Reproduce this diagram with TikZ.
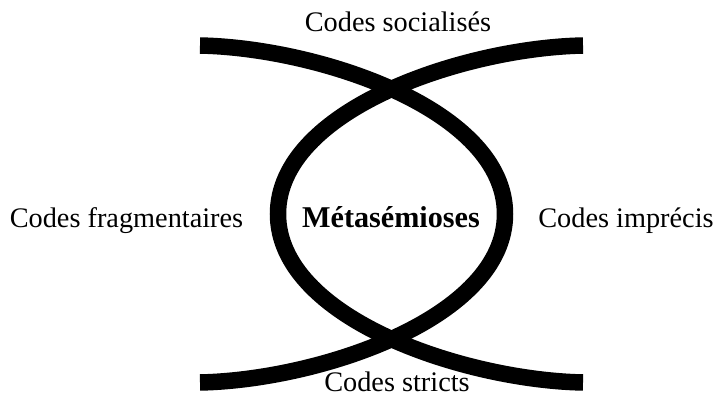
\documentclass[tikz,border=0pt]{standalone}
\usepackage{fontspec}
\setmainfont{Liberation Serif}
\begin{document}
\begin{tikzpicture}[x=1pt,y=-1pt,
  lbl/.style={anchor=base,inner sep=0pt,font=\fontsize{28.3}{32}\selectfont},
  title/.style={anchor=base,inner sep=0pt,font=\fontsize{30.2}{34}\selectfont\bfseries},
  band/.style={line width=16.5pt,line cap=butt,black}]
\useasboundingbox (0,0) rectangle (716,398);
% curve endpoints and extremes
\coordinate (tl) at (200,45.5);
\coordinate (bl) at (200,382.5);
\coordinate (tr) at (583,45.5);
\coordinate (br) at (583,382.5);
\coordinate (re) at (505,214);
\coordinate (le) at (278,214);
\draw[band] (tl) .. controls (320,48) and (505,110) .. (re)
                 .. controls (505,318) and (320,380) .. (bl);
\draw[band] (tr) .. controls (463,48) and (278,110) .. (le)
                 .. controls (278,318) and (463,380) .. (br);
\node[lbl] (soc) at (398,32) {Codes socialisés};
\node[lbl] (str) at (397,392) {Codes stricts};
\node[lbl] (fra) at (126.5,228) {Codes fragmentaires};
\node[lbl] (imp) at (626,228) {Codes imprécis};
\node[title] (met) at (391,228) {Métasémioses};
\end{tikzpicture}
\end{document}
